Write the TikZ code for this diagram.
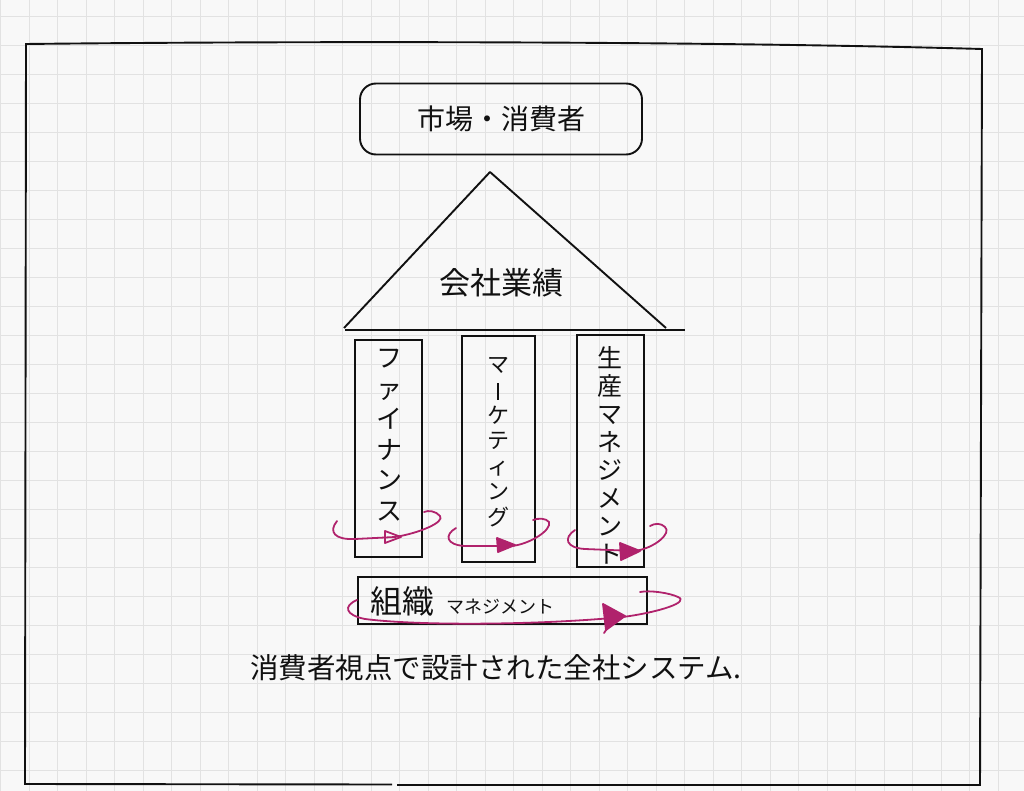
\documentclass[tikz,border=0pt]{standalone}
\usepackage{fontspec}
\newfontfamily\cjk{Noto Sans CJK JP}
\definecolor{paper}{HTML}{F8F8F8}
\definecolor{gridc}{HTML}{E2E2E2}
\definecolor{ink}{HTML}{111111}
\definecolor{loopc}{HTML}{B0226C}
\begin{document}
\begin{tikzpicture}[x=1pt,y=-1pt,
  frame/.style={draw=ink,line width=1.9pt},
  pillar/.style={draw=ink,line width=1.9pt},
  loopline/.style={draw=loopc,line width=1.8pt,line cap=round,line join=round},
  head/.style={draw=loopc,line width=1.8pt,line join=round},
  label/.style={font=\cjk, text=ink, inner sep=0pt},
  vlabel/.style={font=\cjk, text=ink, inner sep=0pt, align=center, anchor=north}]
\useasboundingbox (0,0) rectangle (1024,791);
\fill[paper] (0,0) rectangle (1024,791);
\foreach \i in {0,...,36} \draw[gridc,line width=0.6pt] (0.5+28.5*\i,0) -- (0.5+28.5*\i,791);
\foreach \j in {0,...,27} \draw[gridc,line width=0.6pt] (0,16+29*\j) -- (1024,16+29*\j);
% outer frame
\draw[frame] (392,784.5) -- (25,784) -- (26,44) .. controls (300,41) and (700,41) .. (982,49) -- (980,785) -- (397,785);
% market box
\node[draw=ink,line width=1.9pt,rounded corners=16pt,minimum width=282pt,minimum height=71pt,label,font=\cjk\fontsize{28}{28}\selectfont] (market) at (501,119) {市場・消費者};
% roof
\coordinate (apex) at (490,172);
\coordinate (roofL) at (344,328);
\coordinate (roofR) at (666,328);
\coordinate (beamL) at (345,330);
\coordinate (beamR) at (685,330);
\draw[pillar,line join=round] (roofL) -- (apex) -- (roofR);
\draw[pillar] (beamL) -- (beamR);
\node[label,font=\cjk\fontsize{31}{31}\selectfont] (perf) at (501,283) {会社業績};
% pillars
\draw[pillar] (355,340) rectangle (422,557);
\draw[pillar] (462,336) rectangle (535,562);
\draw[pillar] (577,335) rectangle (644,567);
\draw[pillar] (358,577) rectangle (647,624);
\node[vlabel,font=\cjk\fontsize{26}{30.5}\selectfont] (fin) at (389,349) {フ\\ァ\\イ\\ナ\\ン\\ス};
\node[vlabel,font=\cjk\fontsize{22}{25.5}\selectfont] (mkt) at (498,357) {マ\\\rule[-2pt]{1.6pt}{17pt}\\ケ\\テ\\ィ\\ン\\グ};
\node[vlabel,font=\cjk\fontsize{25}{28}\selectfont] (prod) at (610,346) {生\\産\\マ\\ネ\\ジ\\メ\\ン\\ト};
\node[label,anchor=west] (org) at (370,601) {{\fontsize{32}{32}\selectfont 組織}\hspace{12pt}{\fontsize{18}{18}\selectfont マネジメント}};
% caption
\node[label,font=\cjk\fontsize{28.5}{28.5}\selectfont] (cap) at (496,668) {消費者視点で設計された全社システム.};
% loops
\draw[loopline] (337,521) .. controls (328,532) and (335,540) .. (355,539) -- (395,537) .. controls (420,533) and (445,522) .. (440,516) .. controls (436,511) and (428,510) .. (424,512);
\draw[head] (385,531) -- (401,537) -- (385,543) -- cycle;
\draw[loopline] (456,528) .. controls (444,535) and (446,545) .. (465,546) -- (512,546) .. controls (530,544) and (552,530) .. (549,522) .. controls (546,518) and (538,518) .. (533,520);
\filldraw[head,fill=loopc] (497,538) -- (515,545) -- (498,552) -- cycle;
\draw[loopline] (575,530) .. controls (563,538) and (566,548) .. (585,549) -- (635,551) .. controls (655,548) and (672,533) .. (665,527) .. controls (661,523) and (655,523) .. (650,526);
\filldraw[head,fill=loopc] (620,543) -- (640,551) -- (621,560) -- cycle;
\draw[loopline] (357,600) .. controls (343,606) and (345,615) .. (365,619) .. controls (420,626) and (540,625) .. (623,617) .. controls (660,612) and (690,602) .. (678,597) .. controls (670,593) and (650,590) .. (640,592);
\filldraw[head,fill=loopc] (603,604) -- (625,616) -- (606,630) -- cycle;
\draw[loopline] (606,630) -- (604,633);
\end{tikzpicture}
\end{document}
